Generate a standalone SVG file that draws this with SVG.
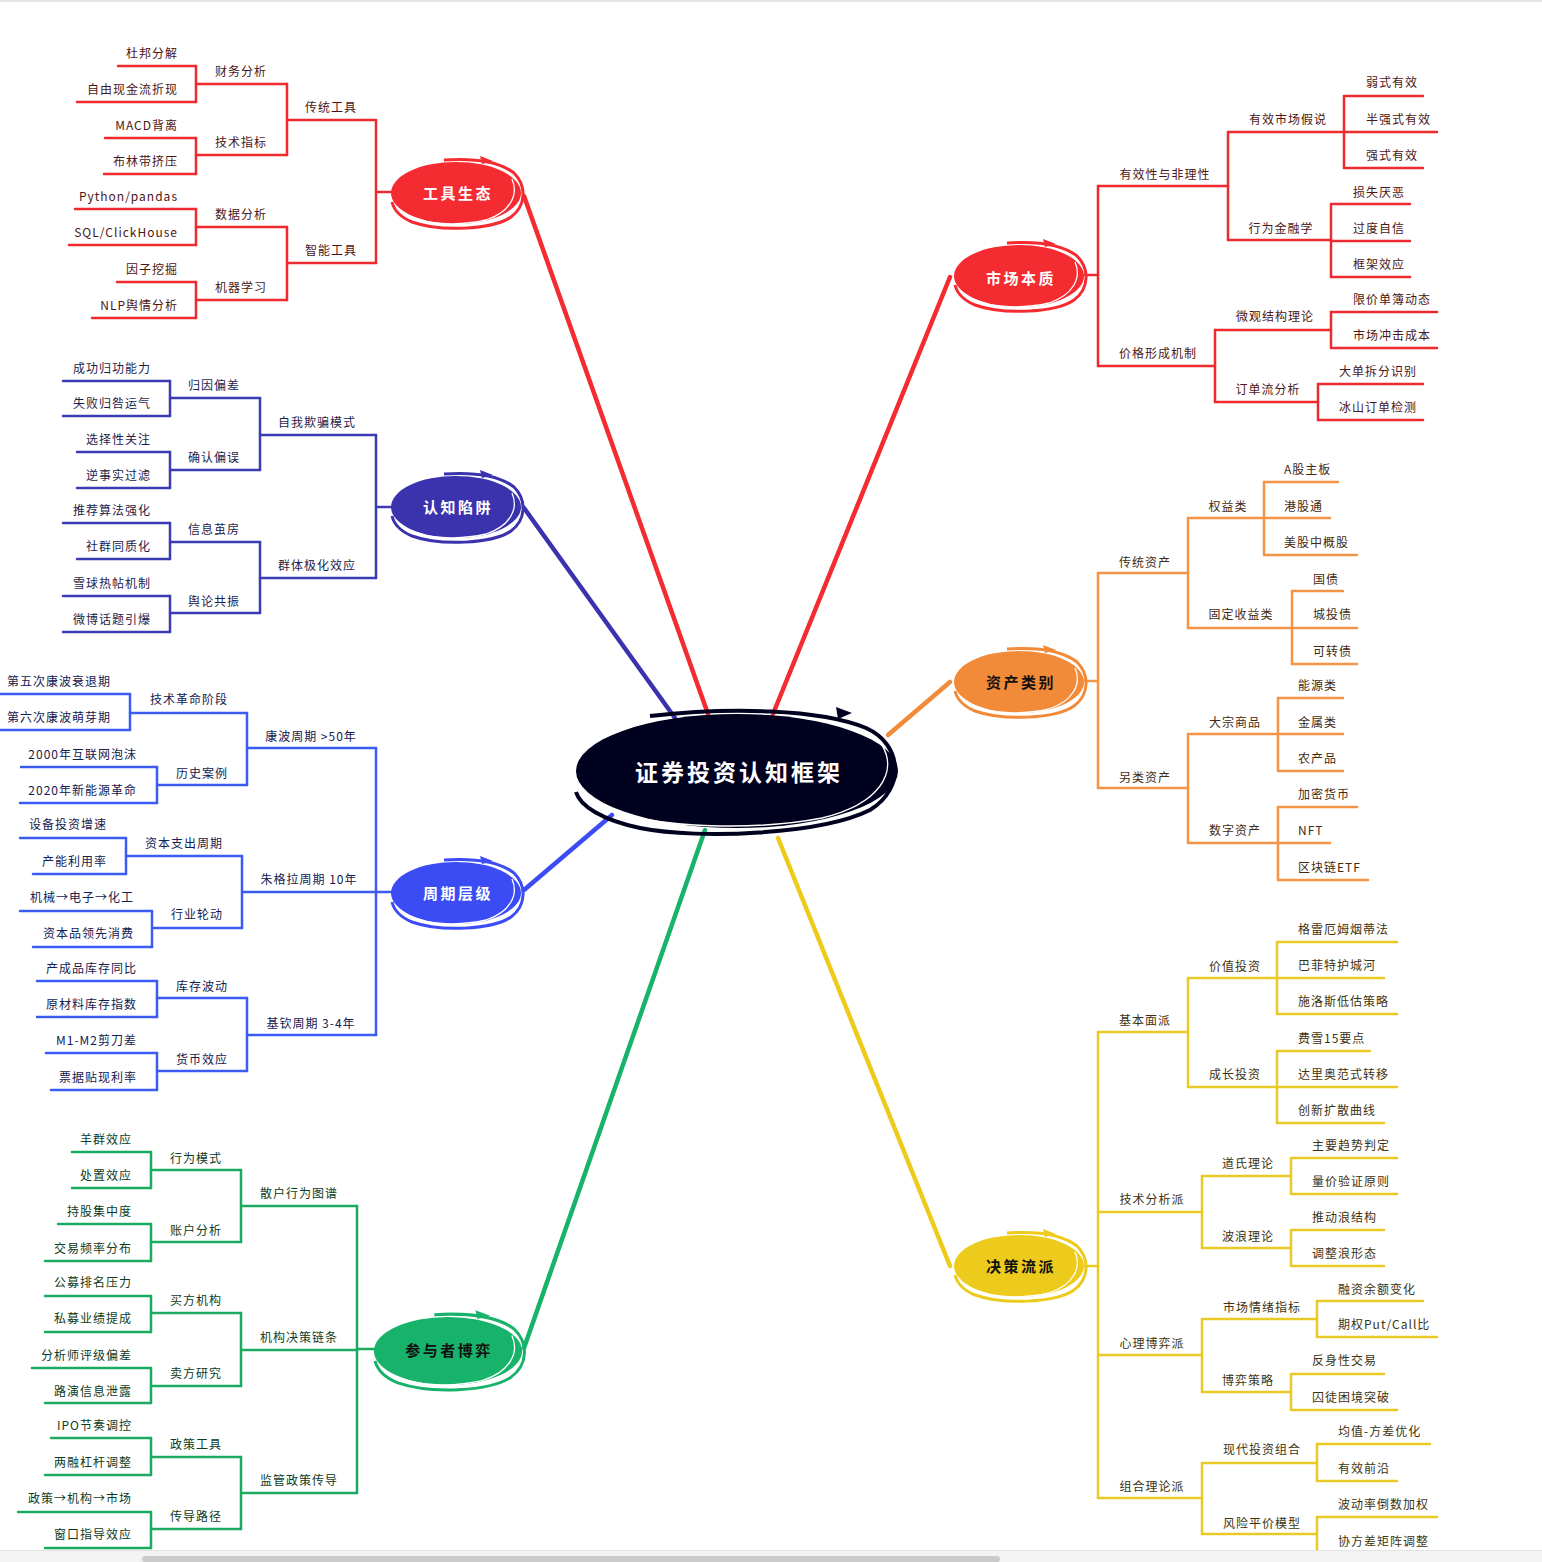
<svg xmlns="http://www.w3.org/2000/svg" xmlns:xlink="http://www.w3.org/1999/xlink" width="1542" height="1562" viewBox="0 0 1542 1562">
<style>
text{font-family:"Noto Sans CJK SC","Noto Sans",sans-serif;font-size:12px;letter-spacing:1px;dominant-baseline:central}
.e{text-anchor:end}.m{text-anchor:middle}.s{text-anchor:start}
path.u,#conn path{fill:none;stroke-width:2.5;stroke-linecap:round;stroke-linejoin:round}
.r path{stroke:#ee2a2f}.r text{fill:#4b1616}
.i path{stroke:#3b3bb3}.i text{fill:#1e1c4a}
.b path{stroke:#3b5bf2}.b text{fill:#14204f}
.g path{stroke:#1baa5f}.g text{fill:#0d3b23}
.o path{stroke:#f39447}.o text{fill:#432a12}
.y path{stroke:#eac925}.y text{fill:#3d3310}
#conn .main{stroke-width:4.5}
.mt{font-size:15px;font-weight:bold;letter-spacing:2.5px;fill:#fff;text-anchor:middle}
.dk{fill:#111}
.ct{font-size:23px;font-weight:bold;letter-spacing:3px;fill:#fff;text-anchor:middle}
</style>
<defs>
<g id="bub">
<ellipse rx="65" ry="31" fill="currentColor"/>
<path d="M-12 -33 C18 -35 44 -31 58 -20 C71 -7 70 13 55 24 C36 37 -16 39 -44 29 C-56 24 -62 17 -64 9" fill="none" stroke="currentColor" stroke-width="3" vector-effect="non-scaling-stroke"/>
<path d="M24 -37 L37 -32 L26 -29 Z" fill="currentColor"/>
<path d="M56 -14 C63 2 54 19 30 27 C4 33 -26 32 -46 23" fill="none" stroke="#fff" stroke-width="1.3" vector-effect="non-scaling-stroke"/>
</g>
</defs>
<rect width="1542" height="1562" fill="#fff"/>
<line x1="0" y1="1" x2="1542" y2="1" stroke="#e6e6e6" stroke-width="2"/>

<g id="conn">
<path class="main" d="M708 714 L524 196" stroke="#f42b31"/>
<path class="main" d="M675 718 L524 508" stroke="#3a33ad"/>
<path class="main" d="M612 815 L524 890" stroke="#3b4cf5"/>
<path class="main" d="M705 830 L524 1348" stroke="#18b36a"/>
<path class="main" d="M773 714 L950 277" stroke="#f42b31"/>
<path class="main" d="M888 735 L950 682" stroke="#f28b39"/>
<path class="main" d="M778 838 L950 1266" stroke="#edcb1c"/>
<g class="r"><path d="M376 120V263M376 192H392M287 84V155M287 227V300M196 66V102M196 138V174M196 209V245M196 282V318"/></g>
<g class="i"><path d="M376 435V578M376 507H392M260 398V470M260 542V613M170 381V416M170 452V488M170 523V559M170 596V632"/></g>
<g class="b"><path d="M376 748V1035M376 892H392M247 713V785M242 856V928M247 998V1071M130 694V730M157 767V803M126 838V874M152 911V947M157 981V1017M157 1053V1090"/></g>
<g class="g"><path d="M357 1206V1493M357 1349H374M241 1170V1242M241 1313V1386M241 1457V1529M151 1152V1188M151 1224V1261M151 1296V1332M151 1368V1403M151 1438V1475M151 1512V1548"/></g>
<g class="r"><path d="M1098 186V366M1085 275H1098M1228 132V240M1215 330V402M1344 96V168M1331 204V277M1331 312V348M1318 384V420"/></g>
<g class="o"><path d="M1098 573V788M1085 681H1098M1188 518V628M1188 734V843M1264 482V555M1292 591V664M1278 698V771M1278 807V880"/></g>
<g class="y"><path d="M1098 1032V1498M1085 1266H1098M1188 978V1087M1202 1176V1248M1202 1319V1392M1202 1463V1534M1277 942V1014M1277 1051V1123M1291 1158V1194M1291 1230V1266M1317 1301V1337M1291 1374V1410M1317 1444V1481M1317 1517V1553"/></g>
</g>

<g id="center">
<ellipse cx="737" cy="771" rx="161" ry="57" fill="#00001f"/>
<path d="M650 716 C730 707 820 709 866 728 C902 744 906 788 870 810 C822 834 700 840 640 828 C602 820 580 806 576 792" fill="none" stroke="#00001f" stroke-width="4"/>
<path d="M836 707 L852 713 L838 719 Z" fill="#00001f"/>
<path d="M882 745 C898 772 880 804 822 818 C760 830 660 830 602 808" fill="none" stroke="#fff" stroke-width="1.5"/>
<text class="ct" x="739" y="771">证券投资认知框架</text>
</g>

<g id="main-tools"><use href="#bub" xlink:href="#bub" transform="translate(456,193)" style="color:#f42b31"/><text class="mt" x="458" y="192">工具生态</text></g>
<g id="main-cog"><use href="#bub" xlink:href="#bub" transform="translate(456,507)" style="color:#3a33ad"/><text class="mt" x="458" y="506">认知陷阱</text></g>
<g id="main-cycle"><use href="#bub" xlink:href="#bub" transform="translate(456,893)" style="color:#3b4cf5"/><text class="mt" x="458" y="892">周期层级</text></g>
<g id="main-player"><use href="#bub" xlink:href="#bub" transform="translate(448,1351) scale(1.14,1.1)" style="color:#18b36a"/><text class="mt dk" x="449" y="1349">参与者博弈</text></g>
<g id="main-market"><use href="#bub" xlink:href="#bub" transform="translate(1019,276)" style="color:#f42b31"/><text class="mt" x="1021" y="277">市场本质</text></g>
<g id="main-asset"><use href="#bub" xlink:href="#bub" transform="translate(1019,682)" style="color:#f28b39"/><text class="mt dk" x="1021" y="681">资产类别</text></g>
<g id="main-school"><use href="#bub" xlink:href="#bub" transform="translate(1019,1266)" style="color:#edcb1c"/><text class="mt dk" x="1021" y="1265">决策流派</text></g>

<!-- 工具生态 -->
<g class="r">
<g id="t1"><path class="u" d="M287 120H376"/><text class="m" x="331" y="106">传统工具</text></g>
<g id="t2"><path class="u" d="M287 263H376"/><text class="m" x="331" y="249">智能工具</text></g>
<g id="t11"><path class="u" d="M196 84H287"/><text class="m" x="241" y="70">财务分析</text></g>
<g id="t12"><path class="u" d="M196 155H287"/><text class="m" x="241" y="141">技术指标</text></g>
<g id="t21"><path class="u" d="M196 227H287"/><text class="m" x="241" y="213">数据分析</text></g>
<g id="t22"><path class="u" d="M196 300H287"/><text class="m" x="241" y="286">机器学习</text></g>
<g id="t111"><path class="u" d="M118 66H196"/><text class="e" x="178" y="52">杜邦分解</text></g>
<g id="t112"><path class="u" d="M77 102H196"/><text class="e" x="178" y="88">自由现金流折现</text></g>
<g id="t121"><path class="u" d="M105 138H196"/><text class="e" x="178" y="124">MACD背离</text></g>
<g id="t122"><path class="u" d="M104 174H196"/><text class="e" x="178" y="160">布林带挤压</text></g>
<g id="t211"><path class="u" d="M75 209H196"/><text class="e" x="178" y="195">Python/pandas</text></g>
<g id="t212"><path class="u" d="M69 245H196"/><text class="e" x="178" y="231">SQL/ClickHouse</text></g>
<g id="t221"><path class="u" d="M117 282H196"/><text class="e" x="178" y="268">因子挖掘</text></g>
<g id="t222"><path class="u" d="M92 318H196"/><text class="e" x="178" y="304">NLP舆情分析</text></g>
</g>

<!-- 认知陷阱 -->
<g class="i">
<g id="c1"><path class="u" d="M260 435H376"/><text class="m" x="317" y="421">自我欺骗模式</text></g>
<g id="c2"><path class="u" d="M260 578H376"/><text class="m" x="317" y="564">群体极化效应</text></g>
<g id="c11"><path class="u" d="M170 398H260"/><text class="m" x="214" y="384">归因偏差</text></g>
<g id="c12"><path class="u" d="M170 470H260"/><text class="m" x="214" y="456">确认偏误</text></g>
<g id="c21"><path class="u" d="M170 542H260"/><text class="m" x="214" y="528">信息茧房</text></g>
<g id="c22"><path class="u" d="M170 613H260"/><text class="m" x="214" y="600">舆论共振</text></g>
<g id="c111"><path class="u" d="M63 381H170"/><text class="e" x="151" y="367">成功归功能力</text></g>
<g id="c112"><path class="u" d="M63 416H170"/><text class="e" x="151" y="402">失败归咎运气</text></g>
<g id="c121"><path class="u" d="M77 452H170"/><text class="e" x="151" y="438">选择性关注</text></g>
<g id="c122"><path class="u" d="M77 488H170"/><text class="e" x="151" y="474">逆事实过滤</text></g>
<g id="c211"><path class="u" d="M63 523H170"/><text class="e" x="151" y="509">推荐算法强化</text></g>
<g id="c212"><path class="u" d="M77 559H170"/><text class="e" x="151" y="545">社群同质化</text></g>
<g id="c221"><path class="u" d="M63 596H170"/><text class="e" x="151" y="582">雪球热帖机制</text></g>
<g id="c222"><path class="u" d="M63 632H170"/><text class="e" x="151" y="618">微博话题引爆</text></g>
</g>

<!-- 周期层级 -->
<g class="b">
<g id="p1"><path class="u" d="M247 748H376"/><text class="m" x="311" y="735">康波周期 &gt;50年</text></g>
<g id="p2"><path class="u" d="M242 892H376"/><text class="m" x="309" y="878">朱格拉周期 10年</text></g>
<g id="p3"><path class="u" d="M247 1035H376"/><text class="m" x="311" y="1022">基钦周期 3-4年</text></g>
<g id="p11"><path class="u" d="M130 713H247"/><text class="m" x="189" y="698">技术革命阶段</text></g>
<g id="p12"><path class="u" d="M157 785H247"/><text class="m" x="202" y="772">历史案例</text></g>
<g id="p21"><path class="u" d="M126 856H242"/><text class="m" x="184" y="842">资本支出周期</text></g>
<g id="p22"><path class="u" d="M152 928H242"/><text class="m" x="197" y="913">行业轮动</text></g>
<g id="p31"><path class="u" d="M157 998H247"/><text class="m" x="202" y="985">库存波动</text></g>
<g id="p32"><path class="u" d="M157 1071H247"/><text class="m" x="202" y="1058">货币效应</text></g>
<g id="p111"><path class="u" d="M0 694H130"/><text class="e" x="111" y="680">第五次康波衰退期</text></g>
<g id="p112"><path class="u" d="M0 730H130"/><text class="e" x="111" y="716">第六次康波萌芽期</text></g>
<g id="p121"><path class="u" d="M21 767H157"/><text class="e" x="137" y="753">2000年互联网泡沫</text></g>
<g id="p122"><path class="u" d="M20 803H157"/><text class="e" x="137" y="789">2020年新能源革命</text></g>
<g id="p211"><path class="u" d="M20 838H126"/><text class="e" x="107" y="823">设备投资增速</text></g>
<g id="p212"><path class="u" d="M33 874H126"/><text class="e" x="107" y="860">产能利用率</text></g>
<g id="p221"><path class="u" d="M20 911H152"/><text class="e" x="134" y="896">机械→电子→化工</text></g>
<g id="p222"><path class="u" d="M33 947H152"/><text class="e" x="134" y="932">资本品领先消费</text></g>
<g id="p311"><path class="u" d="M37 981H157"/><text class="e" x="137" y="967">产成品库存同比</text></g>
<g id="p312"><path class="u" d="M37 1017H157"/><text class="e" x="137" y="1003">原材料库存指数</text></g>
<g id="p321"><path class="u" d="M46 1053H157"/><text class="e" x="137" y="1039">M1-M2剪刀差</text></g>
<g id="p322"><path class="u" d="M51 1090H157"/><text class="e" x="137" y="1076">票据贴现利率</text></g>
</g>

<!-- 参与者博弈 -->
<g class="g">
<g id="g1"><path class="u" d="M241 1206H357"/><text class="m" x="299" y="1192">散户行为图谱</text></g>
<g id="g2"><path class="u" d="M241 1350H357"/><text class="m" x="299" y="1336">机构决策链条</text></g>
<g id="g3"><path class="u" d="M241 1493H357"/><text class="m" x="299" y="1479">监管政策传导</text></g>
<g id="g11"><path class="u" d="M151 1170H241"/><text class="m" x="196" y="1157">行为模式</text></g>
<g id="g12"><path class="u" d="M151 1242H241"/><text class="m" x="196" y="1229">账户分析</text></g>
<g id="g21"><path class="u" d="M151 1313H241"/><text class="m" x="196" y="1299">买方机构</text></g>
<g id="g22"><path class="u" d="M151 1386H241"/><text class="m" x="196" y="1372">卖方研究</text></g>
<g id="g31"><path class="u" d="M151 1457H241"/><text class="m" x="196" y="1443">政策工具</text></g>
<g id="g32"><path class="u" d="M151 1529H241"/><text class="m" x="196" y="1515">传导路径</text></g>
<g id="g111"><path class="u" d="M72 1152H151"/><text class="e" x="132" y="1138">羊群效应</text></g>
<g id="g112"><path class="u" d="M72 1188H151"/><text class="e" x="132" y="1174">处置效应</text></g>
<g id="g121"><path class="u" d="M58 1224H151"/><text class="e" x="132" y="1210">持股集中度</text></g>
<g id="g122"><path class="u" d="M45 1261H151"/><text class="e" x="132" y="1247">交易频率分布</text></g>
<g id="g211"><path class="u" d="M45 1296H151"/><text class="e" x="132" y="1281">公募排名压力</text></g>
<g id="g212"><path class="u" d="M45 1332H151"/><text class="e" x="132" y="1317">私募业绩提成</text></g>
<g id="g221"><path class="u" d="M32 1368H151"/><text class="e" x="132" y="1354">分析师评级偏差</text></g>
<g id="g222"><path class="u" d="M45 1403H151"/><text class="e" x="132" y="1390">路演信息泄露</text></g>
<g id="g311"><path class="u" d="M51 1438H151"/><text class="e" x="132" y="1424">IPO节奏调控</text></g>
<g id="g312"><path class="u" d="M45 1475H151"/><text class="e" x="132" y="1461">两融杠杆调整</text></g>
<g id="g321"><path class="u" d="M18 1512H151"/><text class="e" x="132" y="1497">政策→机构→市场</text></g>
<g id="g322"><path class="u" d="M45 1548H151"/><text class="e" x="132" y="1533">窗口指导效应</text></g>
</g>

<!-- 市场本质 -->
<g class="r">
<g id="m1"><path class="u" d="M1098 186H1228"/><text class="m" x="1165" y="173">有效性与非理性</text></g>
<g id="m2"><path class="u" d="M1098 366H1215"/><text class="m" x="1158" y="352">价格形成机制</text></g>
<g id="m11"><path class="u" d="M1228 132H1344"/><text class="m" x="1288" y="118">有效市场假说</text></g>
<g id="m12"><path class="u" d="M1228 240H1331"/><text class="m" x="1281" y="227">行为金融学</text></g>
<g id="m21"><path class="u" d="M1215 330H1331"/><text class="m" x="1275" y="315">微观结构理论</text></g>
<g id="m22"><path class="u" d="M1215 402H1318"/><text class="m" x="1268" y="388">订单流分析</text></g>
<g id="m111"><path class="u" d="M1344 96H1423"/><text class="s" x="1366" y="81">弱式有效</text></g>
<g id="m112"><path class="u" d="M1344 132H1437"/><text class="s" x="1366" y="118">半强式有效</text></g>
<g id="m113"><path class="u" d="M1344 168H1423"/><text class="s" x="1366" y="154">强式有效</text></g>
<g id="m121"><path class="u" d="M1331 204H1410"/><text class="s" x="1353" y="191">损失厌恶</text></g>
<g id="m122"><path class="u" d="M1331 241H1410"/><text class="s" x="1353" y="227">过度自信</text></g>
<g id="m123"><path class="u" d="M1331 277H1410"/><text class="s" x="1353" y="263">框架效应</text></g>
<g id="m211"><path class="u" d="M1331 312H1437"/><text class="s" x="1353" y="298">限价单簿动态</text></g>
<g id="m212"><path class="u" d="M1331 348H1437"/><text class="s" x="1353" y="334">市场冲击成本</text></g>
<g id="m221"><path class="u" d="M1318 384H1423"/><text class="s" x="1339" y="370">大单拆分识别</text></g>
<g id="m222"><path class="u" d="M1318 420H1423"/><text class="s" x="1339" y="406">冰山订单检测</text></g>
</g>

<!-- 资产类别 -->
<g class="o">
<g id="a1"><path class="u" d="M1098 573H1188"/><text class="m" x="1145" y="561">传统资产</text></g>
<g id="a2"><path class="u" d="M1098 788H1188"/><text class="m" x="1145" y="776">另类资产</text></g>
<g id="a11"><path class="u" d="M1188 518H1264"/><text class="m" x="1228" y="505">权益类</text></g>
<g id="a12"><path class="u" d="M1188 628H1292"/><text class="m" x="1241" y="613">固定收益类</text></g>
<g id="a21"><path class="u" d="M1188 734H1278"/><text class="m" x="1235" y="721">大宗商品</text></g>
<g id="a22"><path class="u" d="M1188 843H1278"/><text class="m" x="1235" y="829">数字资产</text></g>
<g id="a111"><path class="u" d="M1264 482H1338"/><text class="s" x="1284" y="468">A股主板</text></g>
<g id="a112"><path class="u" d="M1264 518H1330"/><text class="s" x="1284" y="505">港股通</text></g>
<g id="a113"><path class="u" d="M1264 555H1357"/><text class="s" x="1284" y="541">美股中概股</text></g>
<g id="a121"><path class="u" d="M1292 591H1343"/><text class="s" x="1313" y="578">国债</text></g>
<g id="a122"><path class="u" d="M1292 628H1357"/><text class="s" x="1313" y="613">城投债</text></g>
<g id="a123"><path class="u" d="M1292 664H1357"/><text class="s" x="1313" y="650">可转债</text></g>
<g id="a211"><path class="u" d="M1278 698H1343"/><text class="s" x="1298" y="684">能源类</text></g>
<g id="a212"><path class="u" d="M1278 734H1343"/><text class="s" x="1298" y="721">金属类</text></g>
<g id="a213"><path class="u" d="M1278 771H1343"/><text class="s" x="1298" y="757">农产品</text></g>
<g id="a221"><path class="u" d="M1278 807H1357"/><text class="s" x="1298" y="793">加密货币</text></g>
<g id="a222"><path class="u" d="M1278 843H1330"/><text class="s" x="1298" y="829">NFT</text></g>
<g id="a223"><path class="u" d="M1278 880H1368"/><text class="s" x="1298" y="866">区块链ETF</text></g>
</g>

<!-- 决策流派 -->
<g class="y">
<g id="d1"><path class="u" d="M1098 1032H1188"/><text class="m" x="1145" y="1019">基本面派</text></g>
<g id="d2"><path class="u" d="M1098 1212H1202"/><text class="m" x="1152" y="1198">技术分析派</text></g>
<g id="d3"><path class="u" d="M1098 1355H1202"/><text class="m" x="1152" y="1342">心理博弈派</text></g>
<g id="d4"><path class="u" d="M1098 1498H1202"/><text class="m" x="1152" y="1485">组合理论派</text></g>
<g id="d11"><path class="u" d="M1188 978H1277"/><text class="m" x="1235" y="965">价值投资</text></g>
<g id="d12"><path class="u" d="M1188 1087H1277"/><text class="m" x="1235" y="1073">成长投资</text></g>
<g id="d21"><path class="u" d="M1202 1176H1291"/><text class="m" x="1248" y="1162">道氏理论</text></g>
<g id="d22"><path class="u" d="M1202 1248H1291"/><text class="m" x="1248" y="1235">波浪理论</text></g>
<g id="d31"><path class="u" d="M1202 1319H1317"/><text class="m" x="1262" y="1306">市场情绪指标</text></g>
<g id="d32"><path class="u" d="M1202 1392H1291"/><text class="m" x="1248" y="1379">博弈策略</text></g>
<g id="d41"><path class="u" d="M1202 1463H1317"/><text class="m" x="1262" y="1448">现代投资组合</text></g>
<g id="d42"><path class="u" d="M1202 1534H1317"/><text class="m" x="1262" y="1522">风险平价模型</text></g>
<g id="d111"><path class="u" d="M1277 942H1397"/><text class="s" x="1298" y="928">格雷厄姆烟蒂法</text></g>
<g id="d112"><path class="u" d="M1277 978H1384"/><text class="s" x="1298" y="964">巴菲特护城河</text></g>
<g id="d113"><path class="u" d="M1277 1014H1397"/><text class="s" x="1298" y="1000">施洛斯低估策略</text></g>
<g id="d121"><path class="u" d="M1277 1051H1370"/><text class="s" x="1298" y="1037">费雪15要点</text></g>
<g id="d122"><path class="u" d="M1277 1087H1397"/><text class="s" x="1298" y="1073">达里奥范式转移</text></g>
<g id="d123"><path class="u" d="M1277 1123H1384"/><text class="s" x="1298" y="1109">创新扩散曲线</text></g>
<g id="d211"><path class="u" d="M1291 1158H1397"/><text class="s" x="1312" y="1144">主要趋势判定</text></g>
<g id="d212"><path class="u" d="M1291 1194H1397"/><text class="s" x="1312" y="1180">量价验证原则</text></g>
<g id="d221"><path class="u" d="M1291 1230H1384"/><text class="s" x="1312" y="1216">推动浪结构</text></g>
<g id="d222"><path class="u" d="M1291 1266H1384"/><text class="s" x="1312" y="1252">调整浪形态</text></g>
<g id="d311"><path class="u" d="M1317 1301H1423"/><text class="s" x="1338" y="1288">融资余额变化</text></g>
<g id="d312"><path class="u" d="M1317 1337H1437"/><text class="s" x="1338" y="1323">期权Put/Call比</text></g>
<g id="d321"><path class="u" d="M1291 1374H1384"/><text class="s" x="1312" y="1359">反身性交易</text></g>
<g id="d322"><path class="u" d="M1291 1410H1397"/><text class="s" x="1312" y="1396">囚徒困境突破</text></g>
<g id="d411"><path class="u" d="M1317 1444H1430"/><text class="s" x="1338" y="1430">均值-方差优化</text></g>
<g id="d412"><path class="u" d="M1317 1481H1397"/><text class="s" x="1338" y="1467">有效前沿</text></g>
<g id="d421"><path class="u" d="M1317 1517H1437"/><text class="s" x="1338" y="1503">波动率倒数加权</text></g>
<g id="d422"><path class="u" d="M1317 1553H1437"/><text class="s" x="1338" y="1540">协方差矩阵调整</text></g>
</g>

<rect x="0" y="1550" width="1542" height="12" fill="#f3f3f3"/>
<line x1="0" y1="1550.5" x2="1542" y2="1550.5" stroke="#e2e2e2" stroke-width="1"/>
<rect x="142" y="1556" width="858" height="6" rx="3" fill="#cbcbcb"/>
</svg>
